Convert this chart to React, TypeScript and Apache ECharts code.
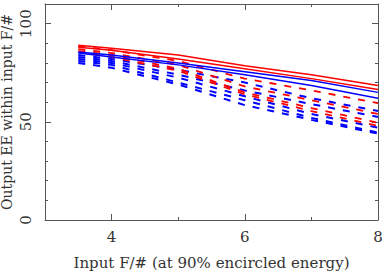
import React, { useEffect, useRef } from "react";
import * as echarts from "echarts";

const xValues = [3.5, 4, 5, 6, 7, 8];

const redSolid = [
  [89, 87.5, 84, 78.5, 74, 68.5],
  [88, 86.5, 82, 77, 72, 66.5],
];
const blueSolid = [
  [85.5, 84, 80, 75.5, 71, 65],
  [85, 83, 79, 74, 68.5, 62],
];
const redDashed = [
  [88.5, 86.5, 81, 72, 66, 59.5],
  [87, 85, 79, 68, 61, 54],
  [86, 84, 77, 65, 57, 49.5],
  [85.5, 83, 76, 64, 55.5, 48],
];
const blueDashed = [
  [84, 82, 76.5, 70, 62, 55.5],
  [83, 81, 74, 66, 59, 52.5],
  [82, 80, 72.5, 63, 54, 47],
  [81, 79, 70, 61, 52, 44.5],
  [80, 77.5, 69, 58.5, 51, 44],
];

const xMajor = [4, 6, 8];
const xMinor = [5, 7];

const RED = "#ff0000";
const BLUE = "#0000ff";
const AXIS = "#555555";
const TEXT = "#333333";
const FONT = "DejaVu Serif";

export default function App() {
  const ref = useRef<HTMLDivElement>(null);
  useEffect(() => {
    if (!ref.current) return;
    const chart = echarts.init(ref.current, undefined, { renderer: "svg" });
    const mk = (vals: number[], color: string, dashed: boolean, width: number) => ({
      type: "line",
      xAxisIndex: 0,
      yAxisIndex: 0,
      data: xValues.map((x, i) => [x, vals[i]]),
      showSymbol: false,
      symbol: "none",
      lineStyle: { color, width, type: dashed ? [7, 8] : "solid" },
    });
    const series: any[] = [
      ...blueDashed.map((v) => mk(v, BLUE, true, 2)),
      ...redDashed.map((v) => mk(v, RED, true, 1.8)),
      ...blueSolid.map((v) => mk(v, BLUE, false, 1.5)),
      ...redSolid.map((v) => mk(v, RED, false, 1.5)),
    ];
    const xBase = (position: string, ticks: number[], len: number, labels: boolean, line: boolean, name?: string) => ({
      type: "value",
      position,
      min: 3,
      max: 8,
      interval: 1,
      splitLine: { show: false },
      axisLine: { show: line, lineStyle: { color: AXIS, width: 1 } },
      axisTick: { show: true, inside: true, length: len, customValues: ticks, lineStyle: { color: AXIS } },
      axisLabel: labels
        ? { show: true, customValues: xMajor, color: TEXT, fontFamily: FONT, fontSize: 15, margin: 9 }
        : { show: false },
      name: name || "",
      nameLocation: "middle",
      nameGap: 35,
      nameTextStyle: { color: TEXT, fontFamily: FONT, fontSize: 15 },
    });
    const yBase = (position: string, labels: boolean, name?: string) => ({
      type: "value",
      position,
      min: 0,
      max: 110,
      interval: 50,
      splitLine: { show: false },
      axisLine: { show: true, lineStyle: { color: AXIS, width: 1 } },
      axisTick: { show: true, inside: true, length: 6, lineStyle: { color: AXIS } },
      minorTick: { show: true, splitNumber: 5, length: 3, lineStyle: { color: AXIS } },
      axisLabel: labels
        ? { show: true, rotate: 90, color: TEXT, fontFamily: FONT, fontSize: 15, margin: 12, showMaxLabel: false }
        : { show: false },
      name: name || "",
      nameLocation: "middle",
      nameGap: 31,
      nameMoveOverlap: false,
      nameRotate: 90,
      nameTextStyle: { color: TEXT, fontFamily: FONT, fontSize: 14 },
    });
    chart.setOption({
      animation: false,
      backgroundColor: "#ffffff",
      grid: { left: 45, right: 5, top: 4, bottom: 53, containLabel: false, outerBoundsMode: "none" },
      xAxis: [
        xBase("bottom", xMajor, 6, true, true, "Input F/# (at 90% encircled energy)"),
        xBase("bottom", xMinor, 3, false, false),
        xBase("top", xMajor, 6, false, true),
        xBase("top", xMinor, 3, false, false),
      ],
      yAxis: [yBase("left", true, "Output EE within input F/#"), yBase("right", false)],
      series,
    });
    return () => chart.dispose();
  }, []);
  return <div ref={ref} style={{ width: 383, height: 273, position: "absolute", left: 0, top: 0 }} />;
}
